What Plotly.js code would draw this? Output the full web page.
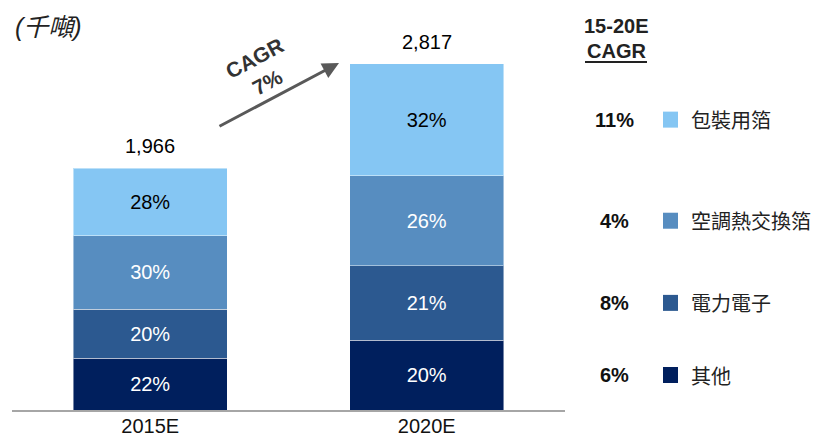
<!DOCTYPE html>
<html>
<head>
<meta charset="utf-8">
<script src="https://cdn.plot.ly/plotly-3.0.1.min.js"></script>
<style>html,body{margin:0;padding:0;background:#fff;}#chart{width:818px;height:438px;}</style>
</head>
<body>
<div id="chart"></div>
<script>
// Data (thousand tonnes)
const categories = ["2015E", "2020E"];
const totals = [1966, 2817];
const seriesNames = ["其他", "電力電子", "空調熱交換箔", "包裝用箔"];
const otherVals = [421, 569];
const powerVals = [399, 604];
const hvacVals = [598, 732];
const packVals = [548, 912];
const otherPct = ["22%", "20%"];
const powerPct = ["20%", "21%"];
const hvacPct = ["30%", "26%"];
const packPct = ["28%", "32%"];
const cagrValues = ["6%", "8%", "4%", "11%"];
const totalCagr = "7%";

const colors = ["#001F5D", "#2C5990", "#578DC0", "#85C6F3"];
const textColors = ["#FFFFFF", "#FFFFFF", "#FFFFFF", "#000000"];
const vals = [otherVals, powerVals, hvacVals, packVals];
const pcts = [otherPct, powerPct, hvacPct, packPct];

const FONT = "Liberation Sans, Arial, Noto Sans CJK TC, sans-serif";
const CJK = "Noto Sans CJK TC, Liberation Sans, sans-serif";

const traces = vals.map((v, i) => ({
  type: "bar",
  x: categories,
  y: v,
  name: seriesNames[i],
  text: pcts[i],
  textposition: "inside",
  insidetextanchor: "middle",
  constraintext: "none",
  textangle: 0,
  textfont: {family: FONT, size: 20, color: textColors[i]},
  marker: {color: colors[i], line: {color: "rgba(255,255,255,0.45)", width: 1}},
  hoverinfo: "skip"
}));

// plot area pixel geometry helpers
const L = 12, R = 565, T = 20, B = 410;
const px2x = px => (px - L) / (R - L);
const py2y = py => (B - py) / (B - T);

const annotations = [];
// totals
categories.forEach((c, i) => {
  annotations.push({x: c, y: totals[i], xref: "x", yref: "y", text: totals[i].toLocaleString("en-US"),
    showarrow: false, xanchor: "center", yanchor: "bottom", yshift: 9, font: {family: FONT, size: 20, color: "#000"}});
});
// unit
annotations.push({xref: "paper", yref: "paper", x: px2x(13), y: py2y(27), xanchor: "left", yanchor: "middle",
  text: "(千噸)", showarrow: false, font: {family: FONT, size: 25, color: "#222", style: "italic"}});
// CAGR arrow
annotations.push({xref: "paper", yref: "paper", x: px2x(339), y: py2y(63), text: "", showarrow: true,
  ax: -121, ay: 64, arrowhead: 2, arrowsize: 1.1, arrowwidth: 3, arrowcolor: "#595959", standoff: 0});
annotations.push({xref: "paper", yref: "paper", x: px2x(261), y: py2y(70), text: "<b>CAGR<br>" + totalCagr + "</b>",
  showarrow: false, textangle: -28, xanchor: "center", yanchor: "middle",
  font: {family: FONT, size: 21, color: "#333"}});
// header
annotations.push({xref: "paper", yref: "paper", x: px2x(616), y: py2y(26), text: "<b>15-20E</b>", showarrow: false,
  xanchor: "center", yanchor: "middle", font: {family: FONT, size: 20, color: "#222"}});
annotations.push({xref: "paper", yref: "paper", x: px2x(616), y: py2y(51), text: "<b>CAGR</b>", showarrow: false,
  xanchor: "center", yanchor: "middle", font: {family: FONT, size: 20, color: "#222"}});

const shapes = [{type: "line", xref: "paper", yref: "paper", x0: px2x(585), x1: px2x(647), y0: py2y(62), y1: py2y(62),
  line: {color: "#222", width: 2}}];

// legend rows aligned to 2020E segment midpoints
let cum = 0;
vals.forEach((v, i) => {
  const mid = cum + v[1] / 2;
  cum += v[1];
  annotations.push({xref: "paper", yref: "y", x: px2x(614), y: mid, text: "<b>" + cagrValues[i] + "</b>", showarrow: false,
    xanchor: "center", yanchor: "middle", font: {family: FONT, size: 20, color: "#111"}});
  annotations.push({xref: "paper", yref: "y", x: px2x(689), y: mid, text: seriesNames[i], showarrow: false,
    xanchor: "left", yanchor: "middle", font: {family: CJK, size: 20, color: "#222"}});
  shapes.push({type: "rect", xref: "paper", yref: "y", x0: px2x(663), x1: px2x(678),
    ysizemode: "pixel", yanchor: mid, y0: -8, y1: 8, fillcolor: colors[i], line: {width: 0}});
});

const layout = {
  width: 818, height: 438,
  margin: {l: L, r: 818 - R, t: T, b: 438 - B},
  paper_bgcolor: "#fff", plot_bgcolor: "#fff",
  barmode: "stack", bargap: 0.443,
  showlegend: false,
  xaxis: {type: "category", range: [-0.5, 1.5], showline: true, linecolor: "#A6A6A6", linewidth: 2,
    ticks: "", ticklabelstandoff: -3, showgrid: false, zeroline: false,
    tickfont: {family: FONT, size: 20, color: "#111"}, fixedrange: true},
  yaxis: {range: [0, 3171], visible: false, showgrid: false, zeroline: false, fixedrange: true},
  annotations: annotations,
  shapes: shapes
};

Plotly.newPlot("chart", traces, layout, {staticPlot: true, displayModeBar: false});
</script>
</body>
</html>
